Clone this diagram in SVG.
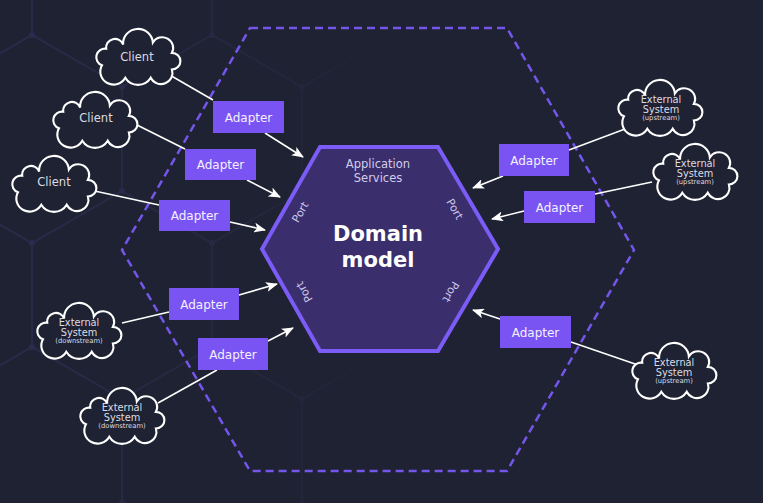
<svg xmlns="http://www.w3.org/2000/svg" width="763" height="503" viewBox="0 0 763 503">
<defs>
<style>
.bg{fill:#1f2232}
.grid{fill:none;stroke:#2a2b4a;stroke-width:2}
.bound{fill:none;stroke:#7556ea;stroke-width:2.5;stroke-dasharray:8 5}
.core{fill:#3a2e6c;stroke:#7b5cf6;stroke-width:4;stroke-linejoin:miter}
.adapter rect{fill:#7a54f2}
.adapter text{fill:#f3f0ff;font-family:"DejaVu Sans",sans-serif;font-size:12px;text-anchor:middle}
.cloud use{fill:#1f2232;stroke:#ffffff;stroke-width:2}
.cloud text{fill:#dcdce4;font-family:"DejaVu Sans",sans-serif;text-anchor:middle}
.t1{font-size:11.5px}
.t2{font-size:9.8px}
.t3{font-size:6.8px}
.link{stroke:#ffffff;stroke-width:1.6;fill:none}
.arrow{marker-end:url(#ah)}
.port{fill:#cbc5ea;font-family:"DejaVu Sans",sans-serif;font-size:11px;text-anchor:middle}
.svc{fill:#d2cdec;font-family:"DejaVu Sans",sans-serif;font-size:11.5px;text-anchor:middle}
.dm{fill:#ffffff;font-family:"DejaVu Sans",sans-serif;font-weight:bold;font-size:21px;text-anchor:middle}
</style>
<pattern id="hexgrid" x="-58" y="35" width="180" height="312" patternUnits="userSpaceOnUse">
<path class="grid" d="M90,0 L180,52 L180,156 L90,208 L0,156 L0,52 Z M90,208 L90,312"/>
<circle cx="90" cy="0" r="3" fill="#2c2b52"/>
<circle cx="90" cy="208" r="3" fill="#2c2b52"/>
<circle cx="0" cy="52" r="3" fill="#2c2b52"/>
<circle cx="180" cy="52" r="3" fill="#2c2b52"/>
<circle cx="0" cy="156" r="3" fill="#2c2b52"/>
<circle cx="180" cy="156" r="3" fill="#2c2b52"/>
<circle cx="90" cy="312" r="3" fill="#2c2b52"/>
</pattern>
<linearGradient id="fade" x1="0" y1="0" x2="1" y2="0">
<stop offset="0" stop-color="#fff" stop-opacity="1"/>
<stop offset="0.3" stop-color="#fff" stop-opacity="0.6"/>
<stop offset="0.55" stop-color="#fff" stop-opacity="0"/>
</linearGradient>
<mask id="gridmask"><rect x="0" y="0" width="763" height="503" fill="url(#fade)"/></mask>
<path id="cloudshape" d="M-34,8 A8.3,8.3 0 0 1 -30,-8 A8.3,8.3 0 0 1 -14,-12 A14,14 0 0 1 14,-14 A10.3,10.3 0 0 1 32,-4 A8,8 0 0 1 32,12 A10.8,10.8 0 0 1 12,20 A14,14 0 0 1 -12,20 A12.5,12.5 0 0 1 -34,8 Z"/>
<marker id="ah" markerWidth="12" markerHeight="10" refX="11" refY="5" orient="auto" markerUnits="userSpaceOnUse">
<path d="M0,0 L12,5 L0,10 L3,5 Z" fill="#ffffff"/>
</marker>
</defs>

<rect class="bg" x="0" y="0" width="763" height="503"/>
<rect x="0" y="0" width="763" height="503" fill="url(#hexgrid)" mask="url(#gridmask)"/>

<g id="boundary">
<polygon class="bound" points="250,28 507,28 634,250 507,471 250,471 122,250"/>
</g>

<g id="domain">
<polygon class="core" points="320,147 438,147 498,249 438,351 320,351 262,249"/>
<text class="svc" x="378" y="168">Application</text>
<text class="svc" x="378" y="182">Services</text>
<text class="dm" x="378" y="241">Domain</text>
<text class="dm" x="378" y="267">model</text>
<text class="port" transform="translate(300,212) rotate(-60)" y="4">Port</text>
<text class="port" transform="translate(455,209) rotate(60)" y="4">Port</text>
<text class="port" transform="translate(304,292) rotate(-120)" y="4">Port</text>
<text class="port" transform="translate(451,292) rotate(120)" y="4">Port</text>
</g>

<g id="connectors">
<line class="link" x1="168" y1="74" x2="213" y2="100"/>
<line class="link arrow" x1="265" y1="133" x2="303" y2="157"/>
<line class="link" x1="137" y1="125" x2="185" y2="149"/>
<line class="link arrow" x1="247" y1="180" x2="280" y2="197"/>
<line class="link" x1="90" y1="190" x2="159" y2="205"/>
<line class="link arrow" x1="230" y1="222" x2="265" y2="230"/>
<line class="link" x1="633" y1="126" x2="569" y2="150"/>
<line class="link arrow" x1="503" y1="176" x2="473" y2="188"/>
<line class="link" x1="652" y1="182" x2="595" y2="194"/>
<line class="link arrow" x1="524" y1="211" x2="492" y2="219"/>
<line class="link" x1="122" y1="323" x2="169" y2="312"/>
<line class="link arrow" x1="239" y1="295" x2="277" y2="284"/>
<line class="link" x1="158" y1="403" x2="217" y2="370"/>
<line class="link arrow" x1="268" y1="341" x2="293" y2="328"/>
<line class="link" x1="638" y1="365" x2="571" y2="342"/>
<line class="link arrow" x1="500" y1="319" x2="473" y2="310"/>
</g>

<g id="adapter-client1" class="adapter"><rect x="213" y="101" width="71" height="32"/><text x="248.5" y="121.5">Adapter</text></g>
<g id="adapter-client2" class="adapter"><rect x="185" y="149" width="71" height="31"/><text x="220.5" y="169">Adapter</text></g>
<g id="adapter-client3" class="adapter"><rect x="159" y="200" width="71" height="31"/><text x="194.5" y="220">Adapter</text></g>
<g id="adapter-up1" class="adapter"><rect x="499" y="144" width="70" height="32"/><text x="534" y="164.5">Adapter</text></g>
<g id="adapter-up2" class="adapter"><rect x="524" y="191" width="71" height="32"/><text x="559.5" y="211.5">Adapter</text></g>
<g id="adapter-down1" class="adapter"><rect x="169" y="288" width="70" height="32"/><text x="204" y="308.5">Adapter</text></g>
<g id="adapter-down2" class="adapter"><rect x="198" y="338" width="70" height="32"/><text x="233" y="358.5">Adapter</text></g>
<g id="adapter-up3" class="adapter"><rect x="500" y="316" width="71" height="32"/><text x="535.5" y="336.5">Adapter</text></g>

<g id="client1" class="cloud"><use href="#cloudshape" transform="translate(138,57) scale(1.06,1.04)"/><text class="t1" x="137" y="61">Client</text></g>
<g id="client2" class="cloud"><use href="#cloudshape" transform="translate(95,120) scale(1.06,1.04)"/><text class="t1" x="96" y="122">Client</text></g>
<g id="client3" class="cloud"><use href="#cloudshape" transform="translate(54,184) scale(1.06,1.04)"/><text class="t1" x="54" y="186">Client</text></g>

<g id="ext-up1" class="cloud"><use href="#cloudshape" transform="translate(660,108) scale(1.06,1.04)"/><text class="t2" x="661" y="103">External</text><text class="t2" x="661" y="113">System</text><text class="t3" x="661" y="120">(upstream)</text></g>
<g id="ext-up2" class="cloud"><use href="#cloudshape" transform="translate(695,172) scale(1.06,1.04)"/><text class="t2" x="695" y="167">External</text><text class="t2" x="695" y="177">System</text><text class="t3" x="695" y="184">(upstream)</text></g>
<g id="ext-up3" class="cloud"><use href="#cloudshape" transform="translate(674,371) scale(1.06,1.04)"/><text class="t2" x="674" y="366">External</text><text class="t2" x="674" y="376">System</text><text class="t3" x="674" y="383">(upstream)</text></g>
<g id="ext-down1" class="cloud"><use href="#cloudshape" transform="translate(79,331) scale(1.06,1.04)"/><text class="t2" x="79" y="326">External</text><text class="t2" x="79" y="336">System</text><text class="t3" x="79" y="343">(downstream)</text></g>
<g id="ext-down2" class="cloud"><use href="#cloudshape" transform="translate(122,416) scale(1.06,1.04)"/><text class="t2" x="122" y="411">External</text><text class="t2" x="122" y="421">System</text><text class="t3" x="122" y="428">(downstream)</text></g>
</svg>
